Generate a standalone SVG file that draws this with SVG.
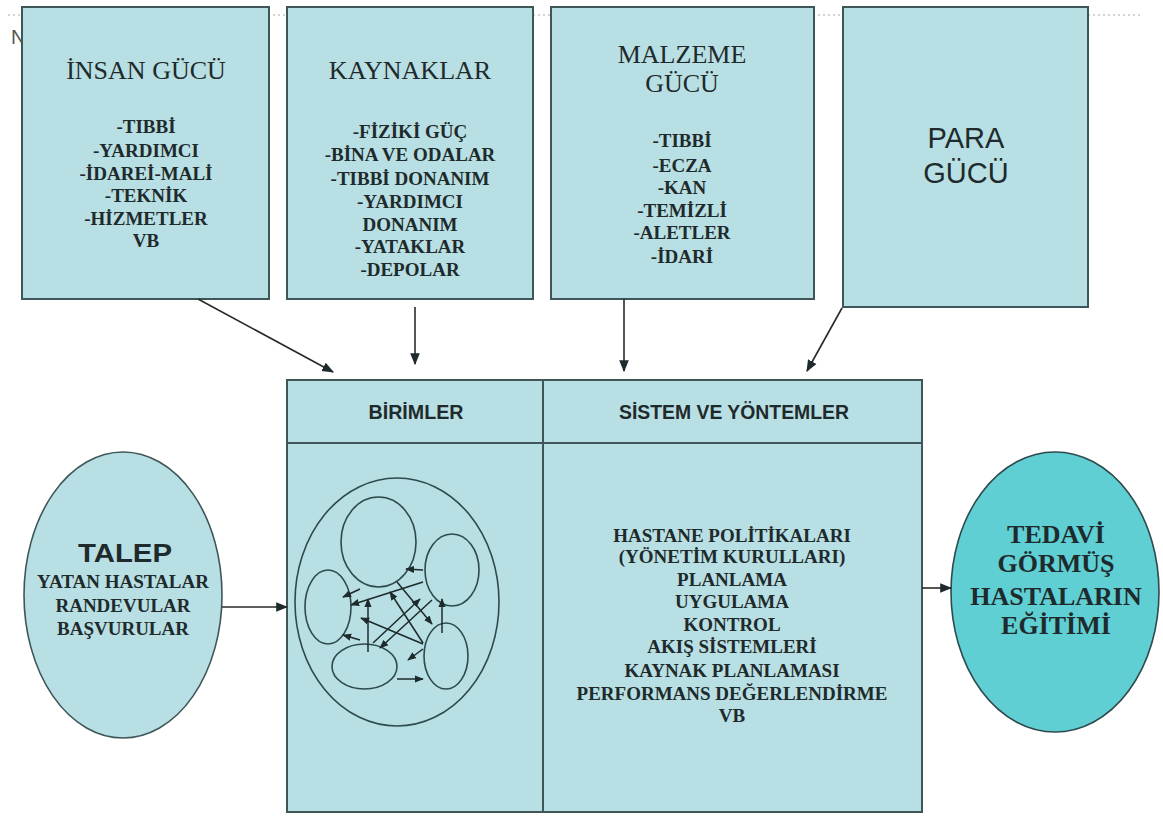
<svg xmlns="http://www.w3.org/2000/svg" width="1163" height="818" viewBox="0 0 1163 818">
<style>
.box{fill:#B8DFE3;stroke:#3F5659;stroke-width:2}
.ell{fill:none;stroke:#2E4A4D;stroke-width:1.6}
.ttl{font-family:"Liberation Serif","Times New Roman",serif;font-size:26px;fill:#1E2A2B;text-anchor:middle}
.lst{font-family:"Liberation Serif","Times New Roman",serif;font-size:19px;font-weight:bold;fill:#1E2A2B;text-anchor:middle}
.sans{font-family:"Liberation Sans",Arial,sans-serif;fill:#1E2A2B;text-anchor:middle}
.hdr{font-family:"Liberation Sans",Arial,sans-serif;font-size:21px;font-weight:bold;fill:#1E2A2B;text-anchor:middle}
.big{font-family:"Liberation Serif","Times New Roman",serif;font-size:26px;font-weight:bold;fill:#1E2A2B;text-anchor:middle}
.con{stroke:#2A2A2A;stroke-width:1.6;fill:none}
.inr{stroke:#1E2A2B;stroke-width:1.5;fill:none}
</style>
<defs>
<marker id="ah" markerUnits="userSpaceOnUse" markerWidth="12" markerHeight="12" viewBox="0 0 10 10" refX="9" refY="5" orient="auto">
<path d="M0,1 L10,5 L0,9 z" fill="#1E2A2B"/>
</marker>
<marker id="ahs" markerUnits="userSpaceOnUse" markerWidth="9" markerHeight="9" viewBox="0 0 10 10" refX="9" refY="5" orient="auto">
<path d="M0,1 L10,5 L0,9 z" fill="#1E2A2B"/>
</marker>
</defs>
<rect width="1163" height="818" fill="#FFFFFF"/>
<line x1="8" y1="15" x2="1143" y2="15" stroke="#A9A9A9" stroke-width="1.2" stroke-dasharray="2,3"/>
<text x="11" y="44" font-family="Liberation Sans, Arial, sans-serif" font-size="20" fill="#555">N</text>

<g id="insan-gucu">
<rect class="box" x="22" y="7" width="247" height="292"/>
<text class="ttl" x="146" y="79">İNSAN GÜCÜ</text>
<text class="lst" x="146" y="133">-TIBBİ</text>
<text class="lst" x="146" y="157">-YARDIMCI</text>
<text class="lst" x="146" y="180">-İDAREİ-MALİ</text>
<text class="lst" x="146" y="202">-TEKNİK</text>
<text class="lst" x="146" y="225">-HİZMETLER</text>
<text class="lst" x="146" y="247">VB</text>
</g>

<g id="kaynaklar">
<rect class="box" x="287" y="7" width="246" height="292"/>
<text class="ttl" x="410" y="79">KAYNAKLAR</text>
<text class="lst" x="410" y="138">-FİZİKİ GÜÇ</text>
<text class="lst" x="410" y="161">-BİNA VE ODALAR</text>
<text class="lst" x="410" y="185">-TIBBİ DONANIM</text>
<text class="lst" x="410" y="208">-YARDIMCI</text>
<text class="lst" x="410" y="231">DONANIM</text>
<text class="lst" x="410" y="253">-YATAKLAR</text>
<text class="lst" x="410" y="276">-DEPOLAR</text>
</g>

<g id="malzeme-gucu">
<rect class="box" x="551" y="7" width="263" height="292"/>
<text class="ttl" x="682" y="63">MALZEME</text>
<text class="ttl" x="682" y="92">GÜCÜ</text>
<text class="lst" x="682" y="147">-TIBBİ</text>
<text class="lst" x="682" y="172">-ECZA</text>
<text class="lst" x="682" y="194">-KAN</text>
<text class="lst" x="682" y="217">-TEMİZLİ</text>
<text class="lst" x="682" y="239">-ALETLER</text>
<text class="lst" x="682" y="263">-İDARİ</text>
</g>

<g id="para-gucu">
<rect class="box" x="843" y="7" width="245" height="300"/>
<text class="sans" x="966" y="148" font-size="29">PARA</text>
<text class="sans" x="966" y="183" font-size="29">GÜCÜ</text>
</g>

<g id="talep">
<ellipse cx="123" cy="595" rx="99" ry="143" fill="#B8DFE3" stroke="#3F5659" stroke-width="1.6"/>
<text class="sans" x="125" y="562" font-size="26" font-weight="bold" textLength="94" lengthAdjust="spacingAndGlyphs">TALEP</text>
<text class="lst" x="123" y="588">YATAN HASTALAR</text>
<text class="lst" x="123" y="612">RANDEVULAR</text>
<text class="lst" x="123" y="635">BAŞVURULAR</text>
</g>

<g id="birimler">
<rect class="box" x="287" y="380" width="256" height="63"/>
<rect class="box" x="287" y="443" width="256" height="369"/>
<text class="hdr" x="416" y="419" textLength="95" lengthAdjust="spacingAndGlyphs">BİRİMLER</text>
<ellipse class="ell" cx="397" cy="602" rx="102" ry="124"/>
<ellipse class="ell" cx="378.5" cy="542" rx="37.5" ry="45"/>
<ellipse class="ell" cx="452" cy="570" rx="27" ry="36"/>
<ellipse class="ell" cx="328" cy="607" rx="23" ry="37"/>
<ellipse class="ell" cx="364.5" cy="666.5" rx="32.5" ry="22.5"/>
<ellipse class="ell" cx="446" cy="656" rx="22" ry="33"/>
<g marker-end="url(#ahs)">
<line class="inr" x1="423" y1="570" x2="406" y2="569"/>
<line class="inr" x1="360" y1="589" x2="343" y2="597"/>
<line class="inr" x1="423" y1="582" x2="351" y2="605"/>
<line class="inr" x1="397" y1="582" x2="432" y2="624"/>
<line class="inr" x1="423" y1="643" x2="390" y2="592"/>
<line class="inr" x1="368" y1="652" x2="368" y2="599"/>
<line class="inr" x1="442" y1="633" x2="442" y2="599"/>
<line class="inr" x1="423" y1="644" x2="361" y2="618"/>
<line class="inr" x1="373" y1="643" x2="420" y2="599"/>
<line class="inr" x1="432" y1="600" x2="380" y2="648"/>
<line class="inr" x1="360" y1="640" x2="343" y2="635"/>
<line class="inr" x1="397" y1="679" x2="423" y2="679"/>
<line class="inr" x1="423" y1="649" x2="408" y2="660"/>
</g>
</g>

<g id="sistem-ve-yontemler">
<rect class="box" x="543" y="380" width="379" height="63"/>
<rect class="box" x="543" y="443" width="379" height="369"/>
<text class="hdr" x="734" y="419" textLength="230" lengthAdjust="spacingAndGlyphs">SİSTEM VE YÖNTEMLER</text>
<text class="lst" x="732" y="542">HASTANE POLİTİKALARI</text>
<text class="lst" x="732" y="563">(YÖNETİM KURULLARI)</text>
<text class="lst" x="732" y="586">PLANLAMA</text>
<text class="lst" x="732" y="608">UYGULAMA</text>
<text class="lst" x="732" y="631">KONTROL</text>
<text class="lst" x="732" y="653">AKIŞ SİSTEMLERİ</text>
<text class="lst" x="732" y="677">KAYNAK PLANLAMASI</text>
<text class="lst" x="732" y="700">PERFORMANS DEĞERLENDİRME</text>
<text class="lst" x="732" y="722">VB</text>
</g>

<g id="tedavi">
<ellipse cx="1055" cy="592" rx="104" ry="140" fill="#5FCFD3" stroke="#2E4A4D" stroke-width="1.6"/>
<text class="big" x="1056" y="543">TEDAVİ</text>
<text class="big" x="1056" y="572">GÖRMÜŞ</text>
<text class="big" x="1056" y="605">HASTALARIN</text>
<text class="big" x="1056" y="634">EĞİTİMİ</text>
</g>

<g id="connectors">
<line class="con" x1="198" y1="299" x2="333" y2="372" marker-end="url(#ah)"/>
<line class="con" x1="415" y1="307" x2="415" y2="364" marker-end="url(#ah)"/>
<line class="con" x1="624" y1="299" x2="624" y2="371" marker-end="url(#ah)"/>
<line class="con" x1="842" y1="308" x2="807" y2="371" marker-end="url(#ah)"/>
<line class="con" x1="222" y1="607" x2="287" y2="607" marker-end="url(#ah)"/>
<line class="con" x1="922" y1="588" x2="951" y2="588" marker-end="url(#ah)"/>
</g>
</svg>
